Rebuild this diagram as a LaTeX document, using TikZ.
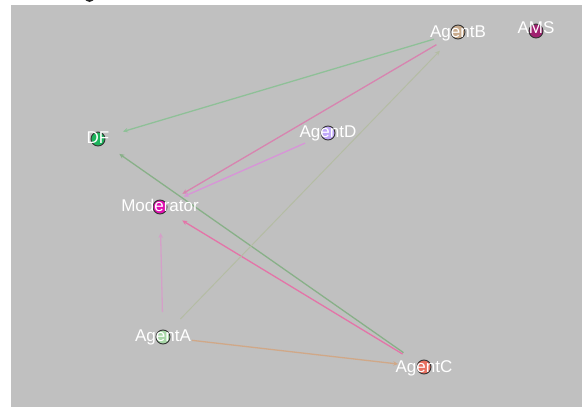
\documentclass[tikz,border=0pt]{standalone}
\usepackage{fontspec}
\setmainfont{Liberation Sans}
\usetikzlibrary{arrows.meta}
\definecolor{bggray}{HTML}{C0C0C0}
\definecolor{cdf}{HTML}{1DB35C}
\definecolor{cagb}{HTML}{C8AA8C}
\definecolor{cams}{HTML}{A02070}
\definecolor{cagd}{HTML}{C0A8F8}
\definecolor{cmod}{HTML}{E010B0}
\definecolor{caga}{HTML}{A8D8A8}
\definecolor{cagc}{HTML}{E87060}
\definecolor{egreen}{HTML}{8FC098}
\definecolor{egreenb}{HTML}{88B088}
\definecolor{epink}{HTML}{D884B0}
\definecolor{epinkb}{HTML}{E474A8}
\definecolor{eviolet}{HTML}{D894D8}
\definecolor{elav}{HTML}{D4A0C8}
\definecolor{eolive}{HTML}{B4BCA4}
\definecolor{etan}{HTML}{D0A888}
\tikzset{
  dot/.style={circle, draw=black!80, line width=0.9pt, minimum size=14pt, inner sep=0pt},
  lbl/.style={anchor=base, text=white, inner sep=0pt, font=\fontsize{17}{20}\selectfont},
  edge/.style={line width=1.3pt, -{Stealth[length=5pt,width=4.5pt]}, shorten <=25pt, shorten >=26pt}
}
\begin{document}
\begin{tikzpicture}[x=1pt,y=-1pt]
\useasboundingbox (0,0) rectangle (582,407);
\fill[bggray] (11,5) rectangle (582,407);
\node[circle, fill=black!85, minimum size=10pt, inner sep=0pt] (topblob) at (89.5,-3) {};
% node centres
\coordinate (pdf) at (98,139);
\coordinate (pagb) at (458,32);
\coordinate (pams) at (536,31);
\coordinate (pagd) at (328,133);
\coordinate (pmod) at (160,207);
\coordinate (paga) at (163,337);
\coordinate (pagc) at (424,367);
% edges
\draw[edge, egreen] (pagb) -- (pdf);
\draw[edge, epink] (pagb) -- (pmod);
\draw[edge, eviolet] (pagd) -- (pmod);
\draw[edge, egreenb] (pagc) -- (pdf);
\draw[edge, epinkb] (pagc) -- (pmod);
\draw[edge, elav] (paga) -- (pmod);
\draw[edge, eolive, line width=1pt] (paga) -- (pagb);
\draw[edge, etan, shorten <=29pt] (paga) -- (pagc);
% nodes
\node[dot, fill=cdf] (df) at (pdf) {};
\node[dot, fill=cagb] (agb) at (pagb) {};
\node[dot, fill=cams] (ams) at (pams) {};
\node[dot, fill=cagd] (agd) at (pagd) {};
\node[dot, fill=cmod] (mod) at (pmod) {};
\node[dot, fill=caga] (aga) at (paga) {};
\node[dot, fill=cagc] (agc) at (pagc) {};
% labels
\node[lbl] (dfl) at ([yshift=-4pt]df.center) {DF};
\node[lbl] (agbl) at ([yshift=-5pt]agb.center) {AgentB};
\node[lbl] (amsl) at ([yshift=-2pt]ams.center) {AMS};
\node[lbl] (agdl) at ([yshift=-4pt]agd.center) {AgentD};
\node[lbl] (modl) at ([yshift=-4pt]mod.center) {Moderator};
\node[lbl] (agal) at ([yshift=-4pt]aga.center) {AgentA};
\node[lbl] (agcl) at ([yshift=-5pt]agc.center) {AgentC};
\end{tikzpicture}
\end{document}
